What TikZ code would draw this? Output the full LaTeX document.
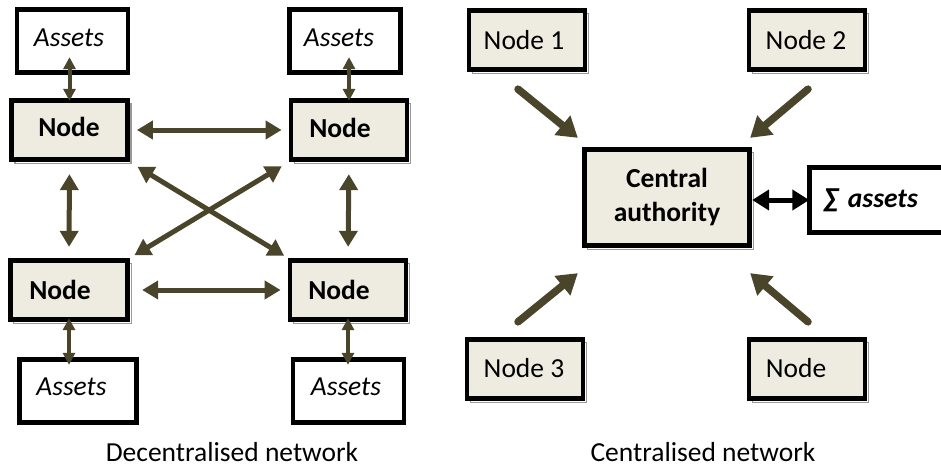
\documentclass[tikz,border=0pt]{standalone}
\usepackage{fontspec}
\setmainfont{Carlito}
\usetikzlibrary{arrows.meta,shadows}
\definecolor{boxfill}{HTML}{EEECE1}
\definecolor{arrowc}{HTML}{4A452A}
\newcommand{\tshift}[3]{\hspace*{#1}\raisebox{#2}{#3}}
\tikzset{
  basebox/.style={draw=black, line width=4.8pt, inner sep=0pt, font=\fontsize{27.5}{34}\selectfont, align=center},
  nodebox/.style={basebox, fill=boxfill, minimum width=116pt, minimum height=59.5pt,
    drop shadow={shadow xshift=3.5pt, shadow yshift=-3.5pt, fill=white, draw=black!40, line width=1.2pt, opacity=1}},
  boldbox/.style={nodebox, font=\fontsize{27.5}{34}\selectfont\bfseries},
  assetbox/.style={basebox, fill=white, minimum width=111pt, minimum height=63.5pt, font=\fontsize{27.5}{34}\selectfont\itshape},
  darr/.style={draw=arrowc, line width=5pt, {Triangle[width=18pt,length=16pt]}-{Triangle[width=18pt,length=16pt]}},
  sarr/.style={draw=arrowc, line width=4pt, {Triangle[width=12pt,length=12pt]}-{Triangle[width=12pt,length=12pt]}},
  carr/.style={draw=arrowc, line width=7.5pt, line cap=round, -{Triangle[width=24pt,length=20pt]}},
  barr/.style={draw=black, line width=5pt, {Triangle[width=20pt,length=17pt]}-{Triangle[width=20pt,length=17pt]}},
  caption/.style={font=\fontsize{27.5}{30}\selectfont}
}
\begin{document}
\begin{tikzpicture}[x=1pt,y=-1pt]
\path[use as bounding box] (0,0) rectangle (941,468);
\clip (0,0) rectangle (941,468);
% decentralised
\node[assetbox] (tla) at (72.5,41) {\tshift{-7pt}{7pt}{Assets}};
\node[assetbox] (tra) at (345,41) {\tshift{-12pt}{7pt}{Assets}};
\node[boldbox] (tl) at (69.5,130) {\tshift{-1pt}{6pt}{Node}};
\node[boldbox] (tr) at (349,130) {\tshift{-18pt}{5pt}{Node}};
\node[boldbox, minimum width=117.5pt] (bl) at (69,290) {\tshift{-18pt}{0pt}{Node}};
\node[boldbox] (br) at (348,290) {\tshift{-18pt}{0pt}{Node}};
\node[assetbox, minimum width=117.5pt] (bla) at (78,391) {\tshift{-13pt}{8pt}{Assets}};
\node[assetbox] (bra) at (348.5,391) {\tshift{-5pt}{8pt}{Assets}};

\draw[sarr, shorten <=-18pt, shorten >=-3pt] (tla.south -| tl.north) -- (tl.north);
\draw[sarr, shorten <=-18pt, shorten >=-3pt] (tra.south -| tr.north) -- (tr.north);
\draw[sarr, shorten <=-4pt, shorten >=-8pt] (bl.south) -- (bla.north -| bl.south);
\draw[sarr, shorten <=-4pt, shorten >=-8pt] (br.south) -- (bra.north -| br.south);

\draw[darr, shorten <=7pt, shorten >=7pt] (tl.east) -- (tr.west);
\draw[darr, shorten <=12pt, shorten >=7pt] (bl.east) -- (br.west);
\draw[darr, shorten <=12pt, shorten >=11pt] (tl.south) -- (bl.north);
\draw[darr, shorten <=12pt, shorten >=11pt] (tr.south) -- (br.north);
\draw[darr, shorten <=9pt, shorten >=4pt] (tl.south east) -- (br.north west);
\draw[darr, shorten <=8pt, shorten >=5pt] (tr.south west) -- (bl.north east);

\node[caption] (dcap) at (232,452) {Decentralised network};

% centralised
\node[nodebox] (n1) at (527,40) {\tshift{-6pt}{0pt}{Node 1}};
\node[nodebox] (n2) at (807,40) {\tshift{-2pt}{0pt}{Node 2}};
\node[nodebox] (n3) at (525,369) {\tshift{-2pt}{3pt}{Node 3}};
\node[nodebox] (n4) at (807,369) {\tshift{-22pt}{3pt}{Node}};
\node[boldbox, minimum width=165.5pt, minimum height=96.5pt] (ca) at (667,197.5) {Central\\authority};
\node[assetbox, font=\fontsize{27.5}{34}\selectfont\bfseries\itshape, minimum width=150pt, minimum height=65.5pt, anchor=west, text width=140pt, align=left] (sum) at (807.25,200) {\hspace*{9pt}∑ assets};

\draw[carr] ([xshift=-9pt,yshift=-17pt]n1.south) -- ([xshift=-4pt,yshift=9pt]ca.north west);
\draw[carr] ([xshift=1pt,yshift=-17pt]n2.south) -- ([xshift=-2pt,yshift=9pt]ca.north east);
\draw[carr] ([xshift=-7pt,yshift=15pt]n3.north) -- ([xshift=-4pt,yshift=-25pt]ca.south west);
\draw[carr] ([xshift=1pt,yshift=15pt]n4.north) -- ([xshift=-2pt,yshift=-25pt]ca.south east);
\draw[barr, shorten >=-2pt] (ca.east |- sum.west) -- (sum.west);

\node[caption] (ccap) at (703,452) {Centralised network};
\end{tikzpicture}
\end{document}
